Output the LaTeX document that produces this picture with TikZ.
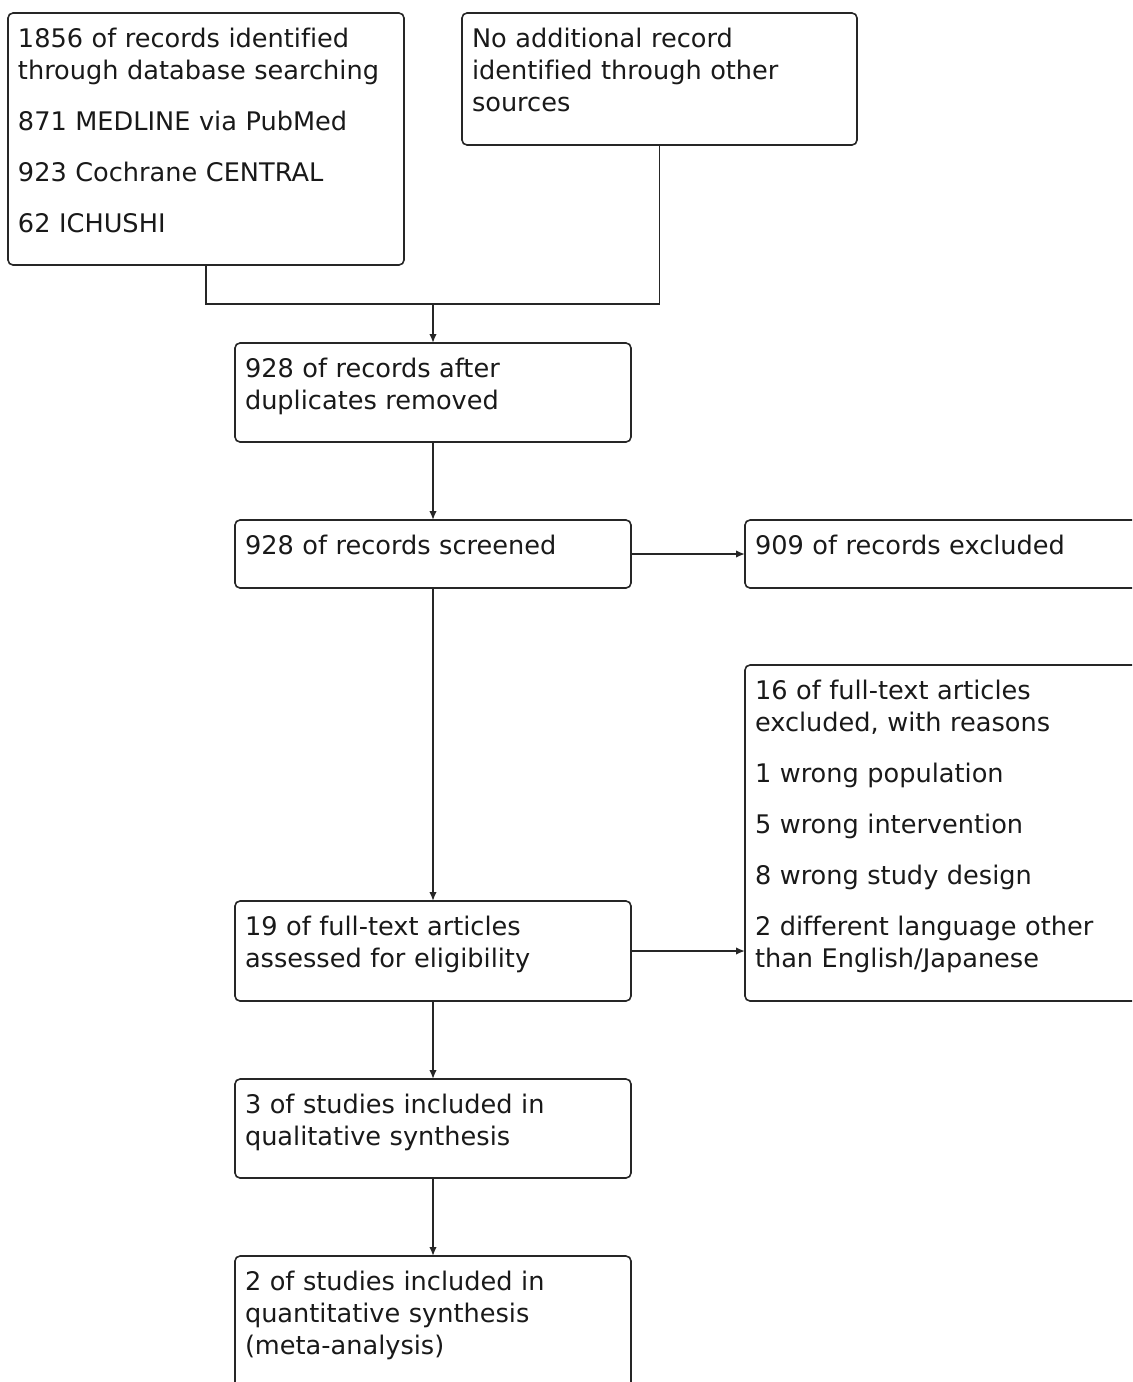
\documentclass[tikz,border=0pt]{standalone}
\usepackage{fontspec}
\setmainfont[Ligatures={NoCommon}]{DejaVu Sans}
\usetikzlibrary{arrows.meta,positioning}

\begin{document}
\begin{tikzpicture}[x=0.5pt,y=-0.5pt,>={Latex[length=4.5pt,width=3.8pt]},line width=0.8pt,
                    node distance=39pt,font=\fontsize{12.8}{16}\selectfont]
  \tikzstyle{stage}=[draw=black!85,rounded corners=2.5pt,anchor=north west,outer sep=0pt,
                     align=left,text width=188pt,inner xsep=5pt,inner ysep=7.5pt,
                     text height=9.5pt,text=black!90]
  \tikzstyle{wide}=[stage,text width=230pt]
  \tikzstyle{flow}=[->,black!85,line width=0.9pt]

  \clip (0,0) rectangle (1132,1382);

  \node[stage,text depth=101.5pt] (srch) at (8,13)
    {1856 of records identified\\ through database searching\\[9.5pt]
     871 MEDLINE via PubMed\\[9.5pt] 923 Cochrane CENTRAL\\[9.5pt] 62 ICHUSHI};
  \node[stage,text width=187.5pt,text depth=41.5pt] (other) at (462,13)
    {No additional record\\ identified through other\\ sources};

  \coordinate (join) at (433,304);

  \node[stage,text depth=25pt,below=19.5pt of join] (dedup)
    {928 of records after\\ duplicates removed};
  \node[stage,text depth=9.5pt,below=of dedup]         (screen) {928 of records screened};
  \node[wide,text depth=9.5pt,right=57pt of screen]   (excl)   {909 of records excluded};
  \node[stage,text depth=25.5pt,below=156.5pt of screen] (full)
    {19 of full-text articles\\ assessed for eligibility};
  \node[wide,text depth=143.5pt,right=57pt of full.south east,anchor=south west] (fexcl)
    {16 of full-text articles\\ excluded, with reasons\\[9.5pt] 1 wrong population\\[9.5pt]
     5 wrong intervention\\[9.5pt] 8 wrong study design\\[9.5pt]
     2 different language other\\ than English/Japanese};
  \node[stage,text depth=25pt,below=of full]          (qual)
    {3 of studies included in\\ qualitative synthesis};
  \node[stage,text depth=55pt,below=of qual]          (quant)
    {2 of studies included in\\ quantitative synthesis\\ (meta-analysis)};

  \draw[black!85] (srch.south) |- (join) -| (other.south);
  \draw[flow] (join) -- (dedup);
  \draw[flow] (dedup) -- (screen);
  \draw[flow] (screen) -- (excl);
  \draw[flow] (screen) -- (full);
  \draw[flow] (full.east) -- (full.east -| fexcl.west);
  \draw[flow] (full) -- (qual);
  \draw[flow] (qual) -- (quant);
\end{tikzpicture}
\end{document}
